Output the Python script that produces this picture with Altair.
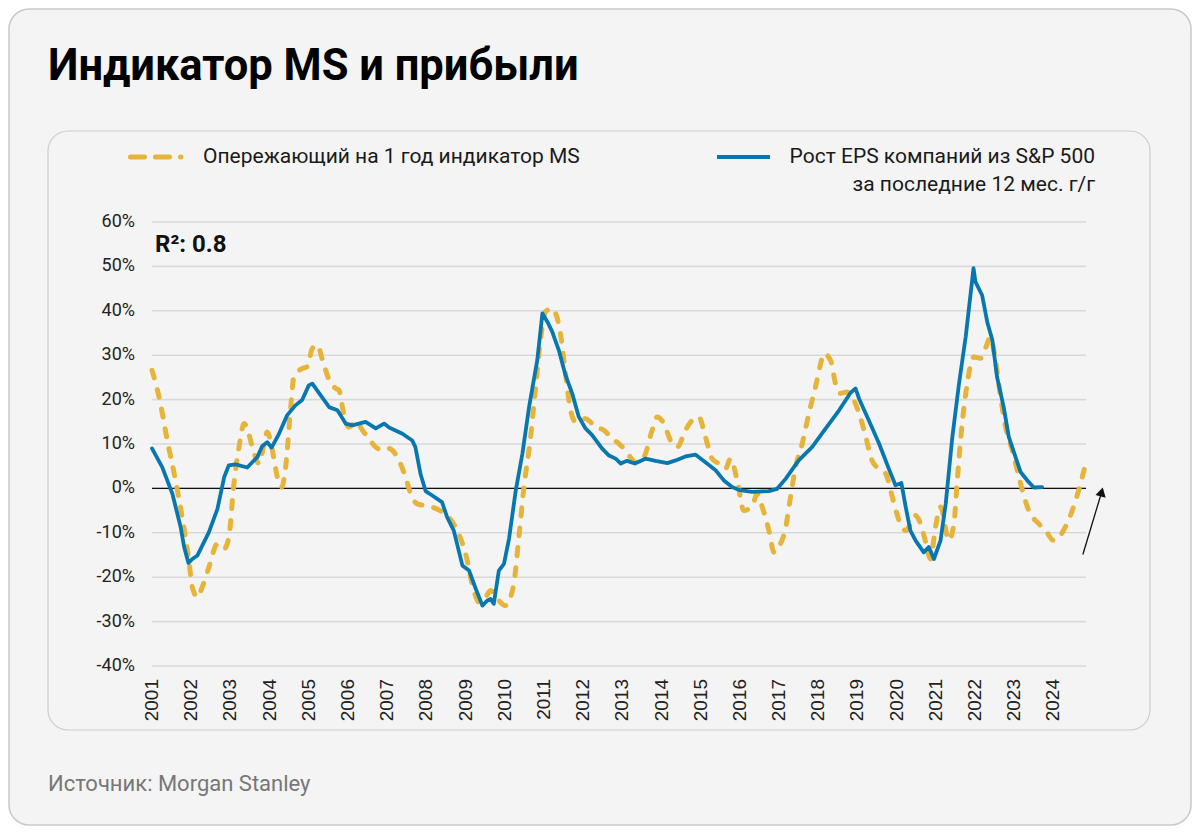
import altair as alt
import pandas as pd

# ---------------- data ----------------
eps_year = [2001.00, 2001.26, 2001.52, 2001.73, 2001.82, 2001.93, 2002.03, 2002.16, 2002.45, 2002.67,
            2002.84, 2002.96, 2003.13, 2003.43, 2003.69, 2003.81, 2003.94, 2004.05, 2004.24, 2004.45,
            2004.66, 2004.83, 2005.00, 2005.09, 2005.30, 2005.52, 2005.73, 2005.81, 2005.94, 2006.11,
            2006.45, 2006.71, 2006.92, 2007.05, 2007.39, 2007.64, 2007.72, 2007.85, 2007.98, 2008.15,
            2008.40, 2008.53, 2008.70, 2008.92, 2009.09, 2009.26, 2009.43, 2009.55, 2009.64, 2009.72,
            2009.85, 2009.98, 2010.11, 2010.28, 2010.45, 2010.62, 2010.83, 2010.96, 2011.09, 2011.21,
            2011.38, 2011.55, 2011.72, 2011.89, 2012.06, 2012.23, 2012.48, 2012.66, 2012.83, 2012.96,
            2013.12, 2013.32, 2013.59, 2013.85, 2014.15, 2014.36, 2014.61, 2014.87, 2015.12, 2015.38,
            2015.59, 2015.80, 2016.00, 2016.31, 2016.74, 2016.95, 2017.17, 2017.50, 2017.84, 2018.19,
            2018.53, 2018.82, 2018.95, 2019.04, 2019.29, 2019.55, 2019.80, 2019.97, 2020.12, 2020.23,
            2020.35, 2020.48, 2020.69, 2020.82, 2020.95, 2021.12, 2021.25, 2021.42, 2021.59, 2021.76,
            2021.96, 2022.01, 2022.18, 2022.31, 2022.44, 2022.56, 2022.73, 2022.86, 2023.03, 2023.16,
            2023.37, 2023.50, 2023.71]
eps_val = [9.0, 4.8, -1.2, -8.7, -13.2, -16.8, -15.9, -15.1, -9.9, -4.6,
           2.5, 5.2, 5.4, 4.7, 7.1, 9.5, 10.4, 9.2, 12.3, 16.5,
           18.7, 19.9, 23.2, 23.6, 21.0, 18.3, 17.6, 16.5, 14.6, 14.2,
           15.0, 13.5, 14.6, 13.7, 12.3, 10.8, 9.3, 3.3, -0.6, -1.6,
           -3.1, -6.5, -9.5, -17.4, -18.5, -22.6, -26.4, -25.3, -24.9, -26.0,
           -18.5, -17.0, -11.3, -0.5, 7.8, 18.3, 28.9, 39.4, 37.5, 35.3,
           31.1, 25.5, 21.4, 16.1, 13.5, 12.0, 9.0, 7.4, 6.7, 5.6,
           6.2, 5.6, 6.7, 6.2, 5.7, 6.3, 7.2, 7.6, 5.9, 4.1,
           1.8, 0.3, -0.4, -0.8, -0.6, -0.1, 2.2, 6.3, 9.3, 13.5,
           17.6, 21.5, 22.5, 20.2, 15.3, 10.1, 4.4, 0.7, 1.2, -4.2,
           -9.5, -11.7, -14.4, -13.2, -15.9, -11.7, -3.5, 11.6, 23.6, 34.1,
           49.6, 46.5, 43.5, 37.5, 33.4, 25.1, 18.3, 11.6, 7.1, 3.7,
           1.4, 0.2, 0.3]

ms_year = [2001.00, 2001.18, 2001.39, 2001.60, 2001.77, 2001.94, 2002.03, 2002.16, 2002.28, 2002.45,
           2002.67, 2002.84, 2002.96, 2003.09, 2003.22, 2003.35, 2003.43, 2003.56, 2003.73, 2003.86,
           2003.94, 2004.07, 2004.20, 2004.31, 2004.41, 2004.54, 2004.62, 2004.83, 2004.96, 2005.09,
           2005.22, 2005.35, 2005.52, 2005.69, 2005.77, 2005.89, 2006.02, 2006.20, 2006.37, 2006.53,
           2006.71, 2006.88, 2007.04, 2007.30, 2007.47, 2007.60, 2007.77, 2007.94, 2008.15, 2008.40,
           2008.74, 2009.00, 2009.21, 2009.34, 2009.51, 2009.64, 2009.85, 2010.02, 2010.23, 2010.36,
           2010.49, 2010.66, 2010.78, 2010.91, 2011.04, 2011.21, 2011.28, 2011.42, 2011.55, 2011.68,
           2011.81, 2012.06, 2012.32, 2012.53, 2012.74, 2012.91, 2013.08, 2013.34, 2013.55, 2013.76,
           2013.89, 2014.06, 2014.23, 2014.40, 2014.61, 2014.78, 2014.95, 2015.12, 2015.29, 2015.46,
           2015.63, 2015.76, 2015.93, 2016.10, 2016.32, 2016.44, 2016.57, 2016.74, 2016.87, 2016.99,
           2017.17, 2017.29, 2017.42, 2017.59, 2017.76, 2017.93, 2018.06, 2018.14, 2018.31, 2018.44,
           2018.57, 2018.74, 2018.86, 2019.04, 2019.21, 2019.37, 2019.55, 2019.72, 2019.89, 2020.06,
           2020.23, 2020.48, 2020.61, 2020.74, 2020.86, 2020.99, 2021.12, 2021.33, 2021.46, 2021.54,
           2021.67, 2021.80, 2021.92, 2021.97, 2022.14, 2022.31, 2022.38, 2022.52, 2022.65, 2022.78,
           2022.95, 2023.16, 2023.37, 2023.63, 2023.80, 2024.00, 2024.17, 2024.34, 2024.51, 2024.64,
           2024.81]
ms_val = [26.6, 20.6, 10.8, 1.8, -6.5, -16.2, -22.3, -24.5, -22.3, -17.8,
          -12.5, -13.6, -11.0, 1.1, 9.3, 14.6, 13.5, 9.3, 5.6, 10.1,
          12.7, 8.6, 2.5, 0.3, 4.8, 18.3, 25.1, 27.0, 27.4, 31.5,
          32.3, 28.9, 24.4, 22.5, 22.1, 16.9, 13.8, 15.0, 13.1, 11.2,
          9.3, 8.6, 9.0, 6.3, 2.5, -1.2, -3.5, -3.8, -4.2, -5.3,
          -8.7, -14.7, -23.0, -25.6, -24.5, -23.0, -25.3, -26.4, -21.5, -11.0,
          0.3, 11.6, 22.1, 33.4, 39.8, 40.5, 39.8, 34.9, 25.9, 17.6,
          15.0, 15.7, 13.8, 13.1, 11.2, 10.1, 8.6, 5.9, 7.1, 13.1,
          16.1, 14.6, 10.8, 9.3, 13.1, 15.3, 16.1, 11.6, 6.7, 5.6,
          4.4, 6.7, 1.8, -5.0, -3.8, -1.2, -4.2, -9.5, -14.4, -13.2,
          -8.7, -2.0, 4.8, 10.1, 16.9, 22.9, 28.1, 30.4, 28.9, 23.6,
          21.4, 21.7, 20.6, 16.9, 11.6, 6.3, 4.4, 3.3, -2.0, -7.2,
          -9.5, -6.1, -8.0, -12.1, -15.9, -8.7, -4.2, -11.7, -8.0, 1.1,
          14.6, 23.6, 28.9, 29.6, 29.3, 32.6, 34.1, 28.9, 20.6, 13.8,
          8.6, 1.1, -5.0, -8.0, -9.5, -11.7, -10.6, -8.0, -4.2, -0.5,
          5.2]

y_ticks = [-40, -30, -20, -10, 0, 10, 20, 30, 40, 50, 60]
y_labels = ["-40%", "-30%", "-20%", "-10%", "0%", "10%", "20%", "30%", "40%", "50%", "60%"]
x_ticks = list(range(2001, 2025))
x_labels = [str(y) for y in x_ticks]

# arrow annotation (start / end of the arrow, in data units)
arrow_from = (2024.75, -14.9)
arrow_to = (2025.23, -0.8)

title_text = "Индикатор MS и прибыли"
legend_ms = "Опережающий на 1 год индикатор MS"
legend_eps_1 = "Рост EPS компаний из S&P 500"
legend_eps_2 = "за последние 12 мес. г/г"
r2_text = "R²: 0.8"
source_text = "Источник: Morgan Stanley"

# ---------------- styling ----------------
W, H = 934, 444
PAD_L, PAD_T = 144, 214
PAD_R, PAD_B = 1184 - PAD_L - W, 818 - PAD_T - H
YELLOW = "#e6b43a"
BLUE = "#0877b0"
FONT = "Roboto"

xscale = alt.Scale(domain=[2001, 2024.83], nice=False, zero=False)
yscale = alt.Scale(domain=[-40, 60], nice=False, zero=False)

one = pd.DataFrame({"k": [0]})

outer_card = alt.Chart(one).mark_rect(
    cornerRadius=20, fill="#f4f4f4", stroke="#c9c9c9", strokeWidth=1.5
).encode(
    x=alt.value(-PAD_L + 1), x2=alt.value(W + PAD_R - 1),
    y=alt.value(-PAD_T + 1), y2=alt.value(H + PAD_B - 1),
)
inner_card = alt.Chart(one).mark_rect(
    cornerRadius=20, fill="#f4f4f4", stroke="#cccccc", strokeWidth=1.2
).encode(
    x=alt.value(-104), x2=alt.value(998), y=alt.value(-91), y2=alt.value(508)
)

ydf = pd.DataFrame({"v": y_ticks, "lab": y_labels})
xdf = pd.DataFrame({"v": x_ticks, "lab": x_labels})

grid = alt.Chart(ydf).mark_rule(color="#d9d9d9", strokeWidth=1.6).encode(
    y=alt.Y("v:Q", scale=yscale, axis=None), x=alt.value(0), x2=alt.value(W)
)
ylab = alt.Chart(ydf).mark_text(
    align="right", baseline="middle", fontSize=18, font=FONT, color="#222222"
).encode(y=alt.Y("v:Q", scale=yscale, axis=None), x=alt.value(-17), text="lab:N")
xlab = alt.Chart(xdf).mark_text(
    align="right", baseline="middle", angle=270, fontSize=19, font="Liberation Sans", color="#222222"
).encode(x=alt.X("v:Q", scale=xscale, axis=None), y=alt.value(H + 13), text="lab:N")

zero_line = alt.Chart(pd.DataFrame({"v": [0]})).mark_rule(
    color="#111111", strokeWidth=1.2
).encode(
    y=alt.Y("v:Q", scale=yscale, axis=None), x=alt.value(0), x2=alt.value(W)
)

ms_df = pd.DataFrame({"year": ms_year, "val": ms_val})
eps_df = pd.DataFrame({"year": eps_year, "val": eps_val})

ms_line = alt.Chart(ms_df).mark_line(
    color=YELLOW, strokeWidth=5, strokeDash=[8, 12], strokeCap="round",
    strokeJoin="round", interpolate="monotone"
).encode(
    x=alt.X("year:Q", scale=xscale, axis=None),
    y=alt.Y("val:Q", scale=yscale, axis=None),
)

eps_line = alt.Chart(eps_df).mark_line(
    color=BLUE, strokeWidth=3.8, strokeJoin="round", strokeCap="round"
).encode(
    x=alt.X("year:Q", scale=xscale, axis=None),
    y=alt.Y("val:Q", scale=yscale, axis=None),
)

arrow_df = pd.DataFrame({"x0": [arrow_from[0]], "y0": [arrow_from[1]],
                         "x1": [arrow_to[0]], "y1": [arrow_to[1]]})
arrow_line = alt.Chart(arrow_df).mark_rule(color="#111111", strokeWidth=1.3, clip=False).encode(
    x=alt.X("x0:Q", scale=xscale, axis=None), y=alt.Y("y0:Q", scale=yscale, axis=None),
    x2="x1:Q", y2="y1:Q",
)
arrow_head = alt.Chart(arrow_df).mark_point(
    shape="triangle-up", filled=True, color="#111111", opacity=1, size=110, angle=14, clip=False
).encode(
    x=alt.X("x1:Q", scale=xscale, axis=None), y=alt.Y("y1:Q", scale=yscale, axis=None),
)


def txt(text, x, y, size, weight="normal", color="#1a1a1a", align="left", baseline="middle", font=FONT):
    return alt.Chart(one).mark_text(
        text=text, align=align, baseline=baseline, fontSize=size, fontWeight=weight,
        color=color, font=font
    ).encode(x=alt.value(x), y=alt.value(y))


title = txt(title_text, -104, -142, 43.5, weight="bold", color="#000000", baseline="alphabetic")
source = txt(source_text, -104, 569, 22, color="#777777", baseline="alphabetic")
r2 = txt(r2_text, 3, 30, 24, weight="bold", color="#111111", baseline="alphabetic")

leg_ms_sym = alt.Chart(one).mark_rule(
    color=YELLOW, strokeWidth=5, strokeDash=[14, 11], strokeCap="round"
).encode(x=alt.value(-21.5), x2=alt.value(29), y=alt.value(-65))
leg_ms_txt = txt(legend_ms, 51, -65, 21)
leg_eps_sym = alt.Chart(one).mark_rule(color=BLUE, strokeWidth=4).encode(
    x=alt.value(565), x2=alt.value(618), y=alt.value(-65))
leg_eps_txt1 = txt(legend_eps_1, 943, -65, 21, align="right")
leg_eps_txt2 = txt(legend_eps_2, 943, -37, 21, align="right")

chart = alt.layer(
    outer_card, inner_card, grid, zero_line, ylab, xlab, ms_line, eps_line, arrow_line, arrow_head,
    title, source, r2, leg_ms_sym, leg_ms_txt, leg_eps_sym, leg_eps_txt1, leg_eps_txt2
).properties(
    width=W, height=H,
    autosize=alt.AutoSizeParams(type="none"),
    padding={"left": PAD_L, "top": PAD_T, "right": PAD_R, "bottom": PAD_B},
    background="#ffffff",
).configure_view(stroke=None)

chart.save("out.html", embed_options={"renderer": "svg", "actions": False})
